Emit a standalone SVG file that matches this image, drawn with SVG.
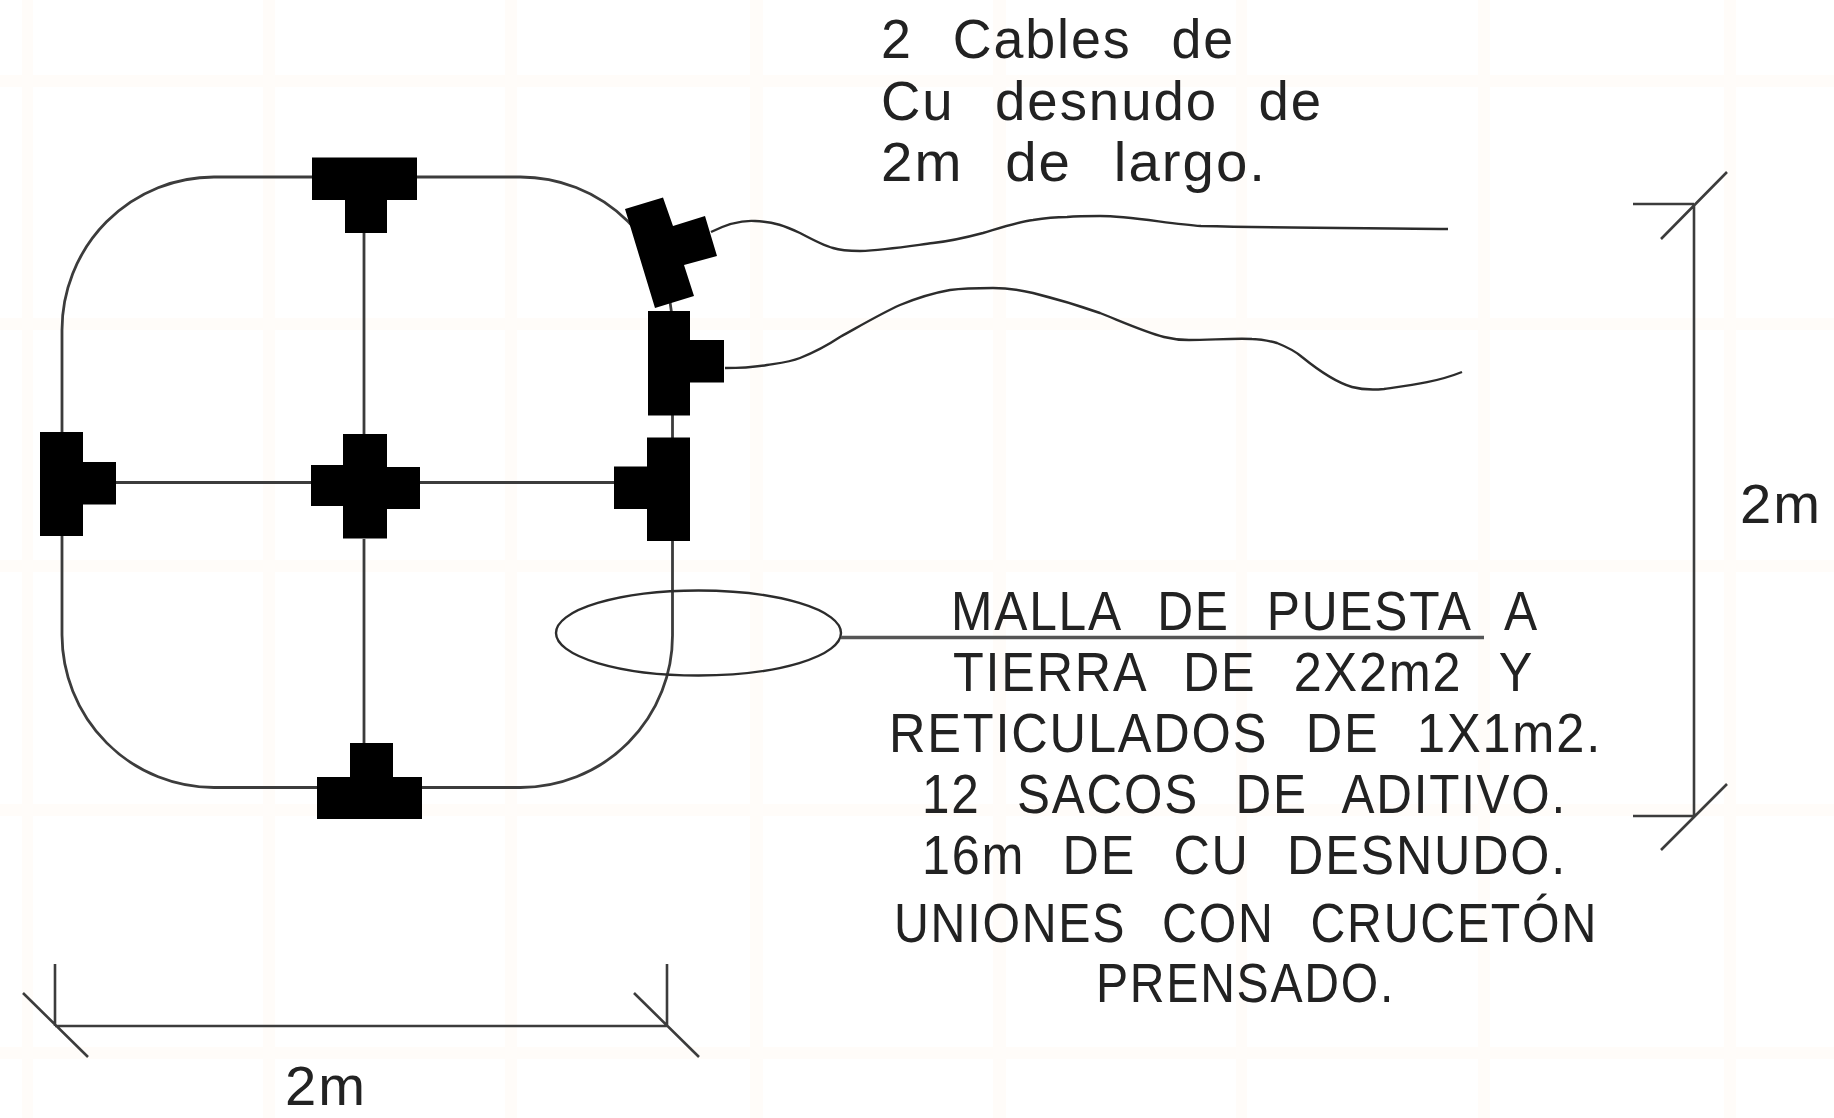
<svg xmlns="http://www.w3.org/2000/svg" width="1834" height="1118" viewBox="0 0 1834 1118">
<style>
.w{fill:none;stroke:#3c3c3c;stroke-width:2.8}
.c{fill:none;stroke:#2c2c2c;stroke-width:2.4}
.d{fill:none;stroke:#3c3c3c;stroke-width:2.6}
.b{fill:#000;stroke:none}
.g{fill:#fffcf9;stroke:none}
text{font-family:"Liberation Sans Narrow","Liberation Sans",Arial,sans-serif;font-size:56px;fill:#222;word-spacing:24px;letter-spacing:2px}
</style>
<g id="background">
<rect width="1834" height="1118" fill="#fff"/>
<rect class="g" x="22" y="0" width="11" height="1118"/><rect class="g" x="263" y="0" width="12" height="1118"/><rect class="g" x="505" y="0" width="12" height="1118"/><rect class="g" x="750" y="0" width="13" height="1118"/><rect class="g" x="993" y="0" width="13" height="1118"/><rect class="g" x="1236" y="0" width="11" height="1118"/><rect class="g" x="1478" y="0" width="12" height="1118"/><rect class="g" x="1724" y="0" width="12" height="1118"/>
<rect class="g" x="0" y="75" width="1834" height="12"/><rect class="g" x="0" y="318" width="1834" height="12"/><rect class="g" x="0" y="560" width="1834" height="12"/><rect class="g" x="0" y="804" width="1834" height="12"/><rect class="g" x="0" y="1047" width="1834" height="12"/>
</g>
<g id="connectors">
<path id="loop" class="w" d="M214 177H520A152 152 0 0 1 672.500 329V635A152 152 0 0 1 520.500 787.500H214A152 153 0 0 1 62 635V330A152 153 0 0 1 214 177Z"/>
<path class="w" d="M364 233V434M364 539V743M116 482.500H311M420 482.500H614"/>
<path id="cable-1" class="c" d="M711 232C725 225 740 220 755 221C775 222 785 226 800 233C815 241 825 246 833 248C842 251 850 251 860 251C885 250 910 246 933 243C952 241 968 237 983 233C1000 228 1018 222 1033 220C1045 218 1056 217 1067 217C1078 216 1090 216 1100 216C1130 216 1170 224 1201 226C1290 228 1370 228 1448 229"/>
<path id="cable-2" class="c" d="M725 368C740 368 755 367 767 365C780 363 790 362 800 358C815 352 828 345 840 337C860 326 880 314 900 305C917 298 933 293 950 290C965 288 980 288 993 288C1007 288 1020 290 1033 293C1057 299 1080 306 1100 313C1125 323 1145 332 1164 337C1172 339 1180 340 1189 340C1210 340 1235 338 1252 339C1262 339 1270 341 1277 343C1287 347 1294 350 1302 357C1318 370 1335 382 1352 387C1363 390 1373 390 1384 389C1412 385 1437 382 1462 372"/>
<ellipse id="ellipse" class="c" cx="698.500" cy="633" rx="142.500" ry="42.500"/>
<path id="leader" d="M841 637.500H1484" fill="none" stroke="#555" stroke-width="3.500"/>
<path id="dim-right" class="d" d="M1694 204V816M1633 204H1694M1633 816H1694M1727 172L1661 239M1727 784L1661 850"/>
<path id="dim-bottom" class="d" d="M55 1026H667M55 964V1026M667 964V1026M23 993L88 1057M634 993L699 1057"/>
</g>
<g id="t-top"><path class="b" d="M312 157.500H417V200H387V233H345V200H312Z"/></g>
<g id="t-rotated"><path class="b" d="M625 209L663 197.500L673 226L705 216L717 256L684 265L694 296L655 308Z"/></g>
<g id="t-right-upper"><path class="b" d="M648 311H690V340H724V382.500H690V415.500H648Z"/></g>
<g id="t-right-lower"><path class="b" d="M647 437.500H690V541H647V509H614V466.500H647Z"/></g>
<g id="cross-center"><path class="b" d="M343 434H387V467H420V509H387V538.500H343V506H311V465H343Z"/></g>
<g id="t-left"><path class="b" d="M40 432H83V462H116V504.500H83V536H40Z"/></g>
<g id="t-bottom"><path class="b" d="M350 743H393V777H422V819H317V777H350Z"/></g>
<g id="labels">
<text x="881" y="58" textLength="354" lengthAdjust="spacingAndGlyphs">2 Cables de</text>
<text x="881" y="119.500" textLength="442" lengthAdjust="spacingAndGlyphs">Cu desnudo de</text>
<text x="881" y="180.500" textLength="386" lengthAdjust="spacingAndGlyphs">2m de largo.</text>
<text x="951" y="630" textLength="588" lengthAdjust="spacingAndGlyphs">MALLA DE PUESTA A</text>
<text x="953" y="690.500" textLength="581" lengthAdjust="spacingAndGlyphs">TIERRA DE 2X2m2 Y</text>
<text x="889" y="751.500" textLength="713" lengthAdjust="spacingAndGlyphs">RETICULADOS DE 1X1m2.</text>
<text x="922" y="812.500" textLength="645" lengthAdjust="spacingAndGlyphs">12 SACOS DE ADITIVO.</text>
<text x="922" y="873.500" textLength="645" lengthAdjust="spacingAndGlyphs">16m DE CU DESNUDO.</text>
<text x="894" y="941.500" textLength="704" lengthAdjust="spacingAndGlyphs">UNIONES CON CRUCETÓN</text>
<text x="1096" y="1002" textLength="299" lengthAdjust="spacingAndGlyphs">PRENSADO.</text>
<text x="1740" y="523" textLength="82" lengthAdjust="spacingAndGlyphs">2m</text>
<text x="285" y="1105" textLength="82" lengthAdjust="spacingAndGlyphs">2m</text>
</g>
</svg>
